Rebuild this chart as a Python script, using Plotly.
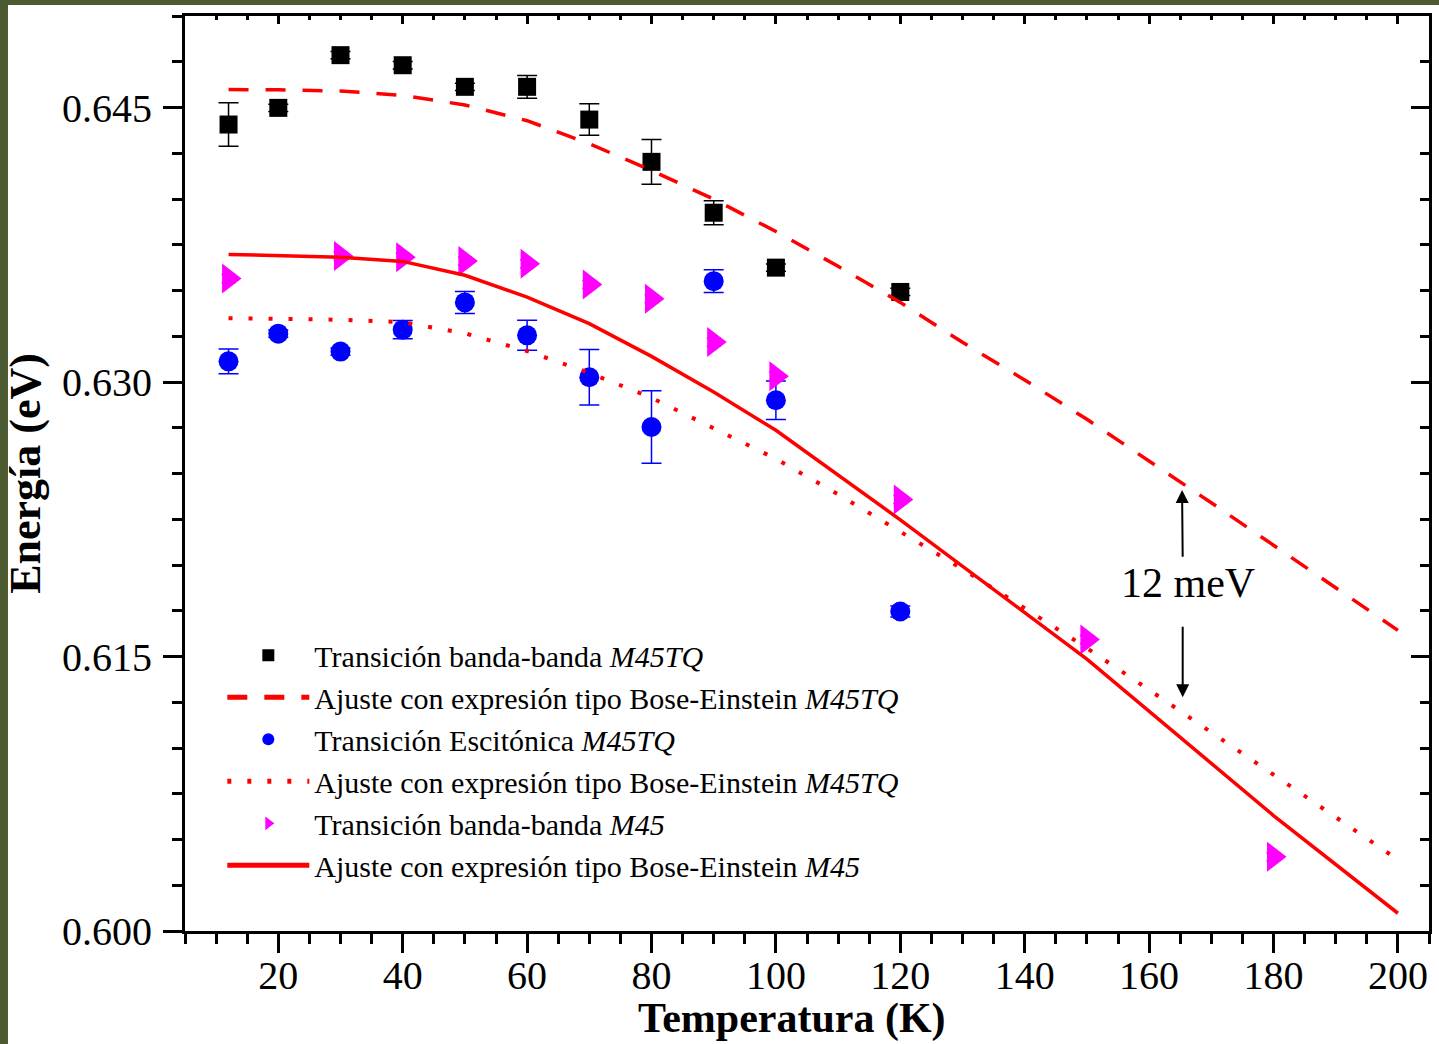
import plotly.graph_objects as go

# ---------------- data ----------------
# Transición banda-banda M45TQ (black squares)
bb_tq_T = [12, 20, 30, 40, 50, 60, 70, 80, 90, 100, 120]
bb_tq_E = [0.64407, 0.64498, 0.64786, 0.64731, 0.64613, 0.64613, 0.64434, 0.64203, 0.63925, 0.63625, 0.63492]
bb_tq_err = [0.00119, 0.0002, 0.0002, 0.0002, 0.0002, 0.00062, 0.00086, 0.00122, 0.00066, 0.0002, 0.0002]

# Transición Escitónica M45TQ (blue circles)
ex_tq_T = [12, 20, 30, 40, 50, 60, 70, 80, 90, 100, 120]
ex_tq_E = [0.63113, 0.63264, 0.63166, 0.63286, 0.63435, 0.63255, 0.63026, 0.62754, 0.63551, 0.62900, 0.61746]
ex_tq_err = [0.00068, 0.0002, 0.0002, 0.0005, 0.0006, 0.00082, 0.00152, 0.00198, 0.00062, 0.00105, 0.0003]

# Transición banda-banda M45 (magenta triangles)
bb_m45_T = [12, 30, 40, 50, 60, 70, 80, 90, 100, 120, 150, 180]
bb_m45_E = [0.63565, 0.63688, 0.63682, 0.63661, 0.63646, 0.63533, 0.63455, 0.63218, 0.63031, 0.62358, 0.61593, 0.60406]
bb_m45_err = [0.00022] * 12

# Bose-Einstein fits
fit_T = [12, 20, 30, 40, 50, 60, 70, 80, 90, 100, 110, 120, 130, 140, 150, 160, 170, 180, 190, 200]
fit_bb_tq_E = [0.64598, 0.64597, 0.64590, 0.64566, 0.64514, 0.64428, 0.64302, 0.64156, 0.63999, 0.63822,
               0.63632, 0.63435, 0.63217, 0.63011, 0.62796, 0.62570, 0.62340, 0.62108, 0.61876, 0.61643]
fit_ex_tq_E = [0.63349, 0.63347, 0.63340, 0.63327, 0.63266, 0.63169, 0.63050, 0.62914, 0.62749, 0.62580,
               0.62386, 0.62182, 0.61978, 0.61764, 0.61546, 0.61318, 0.61086, 0.60856, 0.60625, 0.60390]
fit_m45_T = [12, 30, 40, 50, 60, 70, 80, 90, 100, 120, 150, 180, 200]
fit_m45_E = [0.63697, 0.63682, 0.63659, 0.63583, 0.63464, 0.63319, 0.63140, 0.62945, 0.62736,
             0.62247, 0.61486, 0.60631, 0.60097]

x_ticks = [20, 40, 60, 80, 100, 120, 140, 160, 180, 200]

FONT = "Liberation Serif"
RED = "#ff0000"

fig = go.Figure()

fig.add_trace(go.Scatter(
    x=bb_tq_T, y=bb_tq_E, mode="markers",
    name="Transición banda-banda <i>M45TQ</i>",
    marker=dict(symbol="square", size=18, color="black"),
    error_y=dict(type="data", array=bb_tq_err, visible=True, color="black", thickness=1.5, width=10),
))
fig.add_trace(go.Scatter(
    x=fit_T, y=fit_bb_tq_E, mode="lines",
    name="Ajuste con expresión tipo Bose-Einstein <i>M45TQ</i>",
    line=dict(color=RED, width=3.5, dash="20px,17px"),
))
fig.add_trace(go.Scatter(
    x=ex_tq_T, y=ex_tq_E, mode="markers",
    name="Transición Escitónica <i>M45TQ</i>",
    marker=dict(symbol="circle", size=20, color="#0000ff"),
    error_y=dict(type="data", array=ex_tq_err, visible=True, color="#0000ff", thickness=1.5, width=10),
))
fig.add_trace(go.Scatter(
    x=fit_T, y=fit_ex_tq_E, mode="lines",
    name="Ajuste con expresión tipo Bose-Einstein <i>M45TQ</i>",
    line=dict(color=RED, width=4, dash="4px,16px"),
))
fig.add_trace(go.Scatter(
    x=bb_m45_T, y=bb_m45_E, mode="markers",
    name="Transición banda-banda <i>M45</i>",
    marker=dict(symbol="triangle-right", size=26, color="#ff00ff"),
    error_y=dict(type="data", array=bb_m45_err, visible=True, color="#ff00ff", thickness=1.5, width=7),
))
fig.add_trace(go.Scatter(
    x=fit_m45_T, y=fit_m45_E, mode="lines",
    name="Ajuste con expresión tipo Bose-Einstein <i>M45</i>",
    line=dict(color=RED, width=3.5),
))
# invisible trace to activate the mirrored (top/right) axes
fig.add_trace(go.Scatter(x=[None], y=[None], xaxis="x2", yaxis="y2", showlegend=False, hoverinfo="skip"))

axis_common = dict(showgrid=False, zeroline=False, showline=True, linecolor="black", linewidth=3,
                   tickcolor="black", tickwidth=3, automargin=False)

fig.update_layout(
    template="none",
    width=1439, height=1044,
    margin=dict(l=185, r=10, t=16, b=113, autoexpand=False),
    paper_bgcolor="#4b5a30",
    plot_bgcolor="white",
    font=dict(family=FONT, color="black"),
    xaxis=dict(
        **axis_common, range=[5, 205], tickmode="array", tickvals=x_ticks,
        ticks="outside", ticklen=19, tickfont=dict(size=40, family=FONT), ticklabelstandoff=-12,
        minor=dict(tickmode="linear", tick0=0, dtick=5, ticks="outside", ticklen=10,
                   tickwidth=3, tickcolor="black"),
    ),
    yaxis=dict(
        **axis_common, range=[0.600, 0.650], tickmode="linear", tick0=0.600, dtick=0.015,
        tickformat=".3f", ticks="outside", ticklen=19, tickfont=dict(size=40, family=FONT),
        ticklabelstandoff=3,
        minor=dict(tickmode="linear", tick0=0.600, dtick=0.0025, ticks="outside", ticklen=10,
                   tickwidth=3, tickcolor="black"),
        title=dict(text="<b>Energía (eV)</b>", font=dict(size=44, family=FONT), standoff=8),
    ),
    xaxis2=dict(
        **axis_common, overlaying="x", side="top", range=[5, 205], tickmode="array",
        tickvals=x_ticks, ticks="inside", ticklen=8, showticklabels=False,
        minor=dict(tickmode="linear", tick0=0, dtick=5, ticks="inside", ticklen=4,
                   tickwidth=3, tickcolor="black"),
    ),
    yaxis2=dict(
        **axis_common, overlaying="y", side="right", range=[0.600, 0.650], tickmode="linear",
        tick0=0.600, dtick=0.015, ticks="inside", ticklen=18, showticklabels=False,
        minor=dict(tickmode="linear", tick0=0.600, dtick=0.0025, ticks="inside", ticklen=9,
                   tickwidth=3, tickcolor="black"),
    ),
    legend=dict(
        x=0.03, y=0.3297, xanchor="left", yanchor="top",
        bgcolor="rgba(0,0,0,0)", borderwidth=0,
        font=dict(size=30, family=FONT), itemsizing="constant", itemwidth=82,
        tracegroupgap=0,
    ),
    showlegend=True,
)

# white page area over the olive frame
fig.add_shape(type="rect", xref="paper", yref="paper", x0=-0.1423, x1=1.2, y0=-0.3, y1=1.012,
              fillcolor="white", line=dict(width=0), layer="below")

# x-axis title
fig.add_annotation(x=0.488, y=-0.0677, xref="paper", yref="paper", xanchor="center", yanchor="top",
                   text="<b>Temperatura (K)</b>", showarrow=False,
                   font=dict(size=42, family=FONT, color="black"))

# 12 meV annotation and arrows
fig.add_annotation(x=166.2, y=0.6190, text="12 meV", showarrow=False,
                   font=dict(size=42, family=FONT, color="black"))
fig.add_annotation(x=165.3, y=0.6241, ax=165.4, ay=0.62037, axref="x", ayref="y", xref="x", yref="y",
                   text="", showarrow=True, arrowhead=2, arrowsize=1.3, arrowwidth=2, arrowcolor="black")
fig.add_annotation(x=165.4, y=0.61278, ax=165.4, ay=0.61671, axref="x", ayref="y", xref="x", yref="y",
                   text="", showarrow=True, arrowhead=2, arrowsize=1.3, arrowwidth=2, arrowcolor="black")

fig.write_html("out.html")
